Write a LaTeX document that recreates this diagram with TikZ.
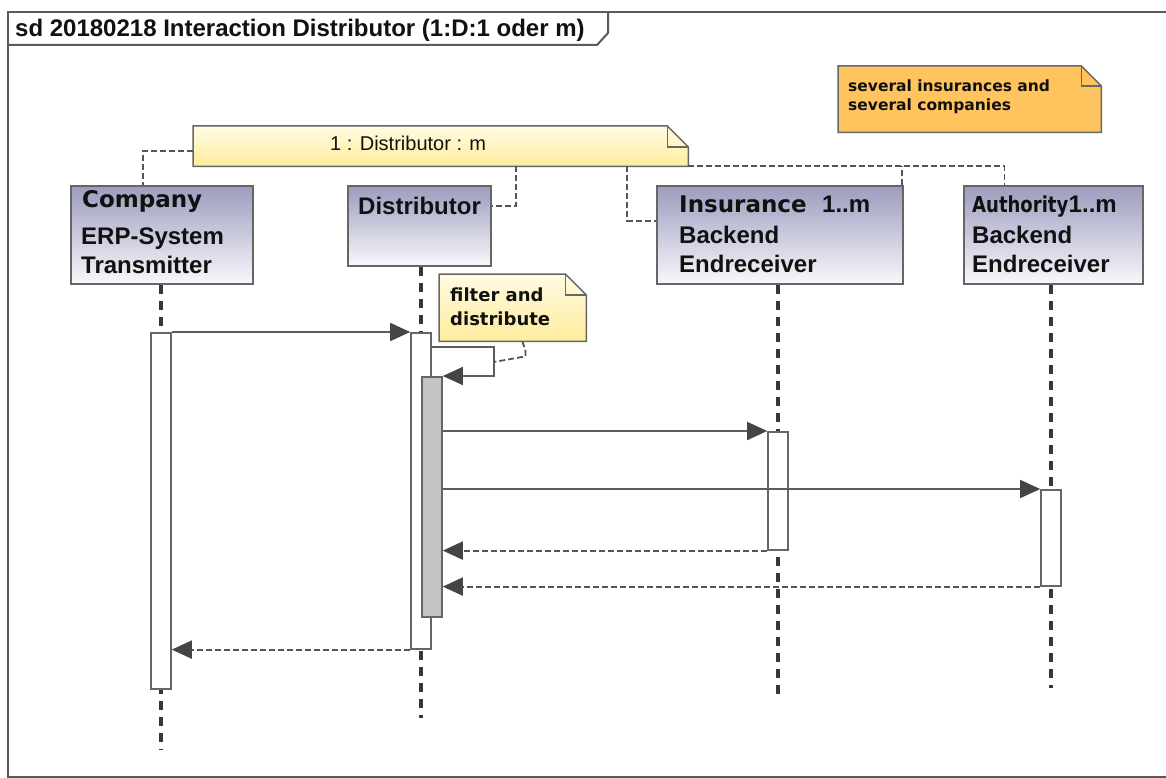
\documentclass[tikz,border=0pt]{standalone}
\usepackage{fontspec}
\setmainfont{Liberation Sans}
\newfontfamily\dvs{DejaVu Sans}
\newfontfamily\dvsn[FakeStretch=0.82]{DejaVu Sans}
\usetikzlibrary{arrows.meta,calc}

\definecolor{edge}{HTML}{666666}
\definecolor{framegray}{HTML}{5A5A5A}
\definecolor{tipgray}{HTML}{454545}
\definecolor{msggray}{HTML}{5C5C5C}
\definecolor{dashgray}{HTML}{555555}
\definecolor{lifedark}{HTML}{383838}
\definecolor{boxtop}{HTML}{9C9CBE}
\definecolor{boxbot}{HTML}{F8F8FC}
\definecolor{notetop}{HTML}{FFFBE3}
\definecolor{notebot}{HTML}{FFEC9C}
\definecolor{orangenote}{HTML}{FFC45E}
\definecolor{actgray}{HTML}{C4C4C4}
\definecolor{ink}{HTML}{111111}

% note outline with a folded top-right corner: #1 node, #2 fill keys, #3 fold size
\newcommand\foldnote[3]{%
  \path[#2, draw=edge, line width=1.5pt, line join=miter]
    (#1.north west) -- ([xshift=-#3]#1.north east) -- ([yshift=-#3]#1.north east)
    -- (#1.south east) -- (#1.south west) -- cycle;
  \draw[edge, line width=1.5pt] ([xshift=-#3]#1.north east) |- ([yshift=-#3]#1.north east);}

\begin{document}
\begin{tikzpicture}[x=1pt,y=-1pt,
  framestyle/.style={draw=framegray, line width=2pt},
  lifebox/.style={draw=edge, line width=1.8pt, top color=boxtop, bottom color=boxbot,
    inner sep=0pt, anchor=north west},
  blank/.style={inner sep=0pt, anchor=north west},
  act/.style={draw=edge, fill=white, line width=1.6pt, minimum width=20pt, inner sep=0pt, anchor=north},
  lifeline/.style={draw=lifedark, line width=3.5pt, dash pattern=on 9pt off 7pt},
  msg/.style={draw=msggray, line width=1.6pt, -{Triangle[length=20pt,width=18pt,color=tipgray]}},
  reply/.style={msg, draw=dashgray, line width=2pt, dash pattern=on 6pt off 3pt},
  conn/.style={draw=dashgray, line width=1.8pt, dash pattern=on 6pt off 3pt},
  lbl/.style={anchor=base west, inner sep=0pt, text=ink},
  boxfont/.style={font=\bfseries\fontsize{24}{28}\selectfont},
  headfont/.style={font=\dvs\bfseries\fontsize{23}{26}\selectfont}]

\useasboundingbox (0,0) rectangle (1166,778);
\fill[white] (0,0) rectangle (1166,778);

% diagram frame and title tab
\draw[framestyle] (1166,12) -- (8,12) -- (8,777) -- (1166,777);
\draw[framestyle] (8,45) -- (597,45) -- (608,33) -- (608,12);
\node[lbl, font=\bfseries\fontsize{24}{27}\selectfont] (title) at (15,37)
  {sd 20180218 Interaction Distributor (1:D:1 oder m)};

% lifeline heads
\node[lifebox, minimum width=182pt, minimum height=98pt] (comp) at (70,185) {};
\node[lifebox, minimum width=143pt, minimum height=80pt] (dist) at (347,185) {};
\node[lifebox, minimum width=246pt, minimum height=98pt] (ins)  at (656,185) {};
\node[lifebox, minimum width=179pt, minimum height=98pt] (auth) at (963,185) {};

\node[lbl, headfont] (compA) at (82,207) {Company};
\node[lbl, boxfont]  (compB) at (81,244) {ERP-System};
\node[lbl, boxfont]  (compC) at (81,273) {Transmitter};

\node[lbl, boxfont]  (distA) at (358,214) {Distributor};

\node[lbl, headfont] (insA) at (679,212) {Insurance};
\node[lbl, boxfont]  (insM) at (822,212) {1..m};
\node[lbl, boxfont]  (insB) at (679,243) {Backend};
\node[lbl, boxfont]  (insC) at (679,272) {Endreceiver};

\node[lbl, font=\dvsn\bfseries\fontsize{22}{25}\selectfont] (authA) at (972,212) {Authority};
\node[lbl, boxfont]  (authM) at (authA.base east) {1..m};
\node[lbl, boxfont]  (authB) at (972,243) {Backend};
\node[lbl, boxfont]  (authC) at (972,272) {Endreceiver};

% lifelines
\coordinate (e1) at (161,750);
\coordinate (e2) at (421,718);
\coordinate (e3) at (778,700);
\coordinate (e4) at (1051,688);
\draw[lifeline] (e1 |- comp.south) -- (e1);
\draw[lifeline] (e2 |- dist.south) -- (e2);
\draw[lifeline] (e3 |- ins.south) -- (e3);
\draw[lifeline] (e4 |- auth.south) -- (e4);

% activations
\node[act, minimum height=356pt] (a1) at (161,332) {};
\node[act, minimum height=316pt] (a2) at (421,332) {};
\node[act, fill=actgray, minimum height=240pt] (a3) at (432,376) {};
\node[act, minimum height=118pt] (a4) at (778,431) {};
\node[act, minimum height=96pt]  (a5) at (1051,489) {};

% notes
\node[blank, minimum width=495pt, minimum height=40pt] (dnote) at (193,126) {};
\foldnote{dnote}{top color=notetop, bottom color=notebot}{21pt}
\node[lbl, font=\fontsize{20}{24}\selectfont] (dnoteT) at (330,151) {1 : Distributor : m};

\node[blank, minimum width=147pt, minimum height=67pt] (fnote) at (439,274) {};
\foldnote{fnote}{top color=notetop, bottom color=notebot}{21pt}
\node[lbl, font=\dvs\bfseries\fontsize{18}{22}\selectfont] (fnoteA) at (450,301) {filter and};
\node[lbl, font=\dvs\bfseries\fontsize{18}{22}\selectfont] (fnoteB) at (450,325) {distribute};

\node[blank, minimum width=263pt, minimum height=66pt] (onote) at (838,66) {};
\foldnote{onote}{fill=orangenote}{20pt}
\node[lbl, font=\dvs\bfseries\fontsize{15.5}{19}\selectfont] (onoteA) at (848,92) {several insurances and};
\node[lbl, font=\dvs\bfseries\fontsize{15.5}{19}\selectfont] (onoteB) at (848,111) {several companies};

% note anchors
\draw[conn] ([yshift=-5pt]dnote.west) -| ([xshift=-19pt]comp.north);
\draw[conn] (dnote.south -| 516,0) |- ([yshift=20pt]dist.east);
\draw[conn] (dnote.south -| 627,0) |- ([yshift=14pt]ins.west);
\draw[conn] (dnote.south east) -| ([xshift=-49pt]auth.north);
\draw[conn] ([xshift=-2pt]ins.north east) -- ([xshift=-2pt]ins.north east |- dnote.south);

% messages
\draw[msg] (a1.north east) -- (a2.north west);
\draw[msg] ([yshift=-15pt]a2.north east) -- ++(62,0) coordinate (selfR) |- (a3.north east);
\draw[conn] ([xshift=-64pt]fnote.south east) -- ++(3,9) -- ++(0,6) -- ($(selfR)+(0,15)$);
\draw[msg] (a3.east |- a4.north west) -- (a4.north west);
\draw[msg] (a3.east |- a5.north west) -- (a5.north west);
\draw[reply] (a4.south west) -- (a3.east |- a4.south west);
\draw[reply] (a5.south west) -- (a3.east |- a5.south west);
\draw[reply] (a2.south west) -- (a1.east |- a2.south west);

\end{tikzpicture}
\end{document}
